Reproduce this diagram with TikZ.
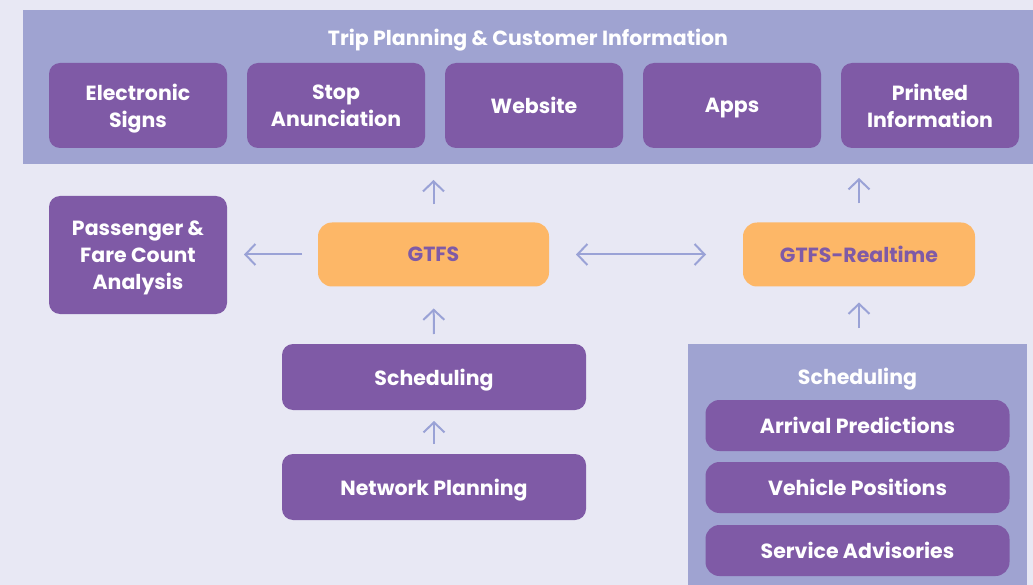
\documentclass[tikz,border=0pt]{standalone}
\usepackage{fontspec}
\setmainfont{Poppins}
\usetikzlibrary{positioning,arrows.meta}
\definecolor{bgc}{HTML}{E8E8F4}
\definecolor{bandc}{HTML}{9FA3D1}
\definecolor{boxc}{HTML}{7F5AA6}
\definecolor{feedc}{HTML}{FDB767}
\definecolor{arrowc}{HTML}{9AA2D6}
\tikzset{
	lbl/.style={font=\fontsize{20.5}{27}\selectfont\bfseries, align=center, inner sep=0pt, outer sep=0pt, text depth=0pt},
	box/.style={lbl, rectangle, fill=boxc, text=white, rounded corners=11pt, minimum width=178pt, minimum height=85pt},
	feed/.style={lbl, rectangle, fill=feedc, text=boxc, rounded corners=14pt, minimum width=231pt, minimum height=64pt},
	panel/.style={rectangle, fill=bandc, inner sep=0pt, outer sep=0pt},
	title/.style={lbl, text=white},
	barbtip/.tip={Straight Barb[length=10pt,width=21pt]},
	arr/.style={draw=arrowc, line width=2pt, -barbtip}
}
\begin{document}
\begin{tikzpicture}[x=1pt, y=-1pt]
		\useasboundingbox[fill=bgc] (0,0) rectangle (1033,585);
		\node[panel, minimum width=1010pt, minimum height=154pt] (trip) at (528,87) {};
		\node[title, below=19pt of trip.north] (triptitle) {Trip Planning \& Customer Information};
		\node[box] (signs) at (138,105.5) {Electronic\\Signs};
		\node[box, right=20pt of signs] (stop) {Stop\\Anunciation};
		\node[box, right=20pt of stop] (web) {Website};
		\node[box, right=20pt of web] (apps) {Apps};
		\node[box, right=20pt of apps] (printed) {Printed\\Information};
		\node[box, below=48pt of signs, minimum height=118pt] (fare) {Passenger \&\\Fare Count\\Analysis};
		\node[feed] (gtfs) at (433.5,254.5) {GTFS};
		\node[feed, right=194pt of gtfs, minimum width=232pt] (rt) {GTFS-Realtime};
		\node[box, minimum width=304pt, minimum height=66pt] (sched) at (434,377) {Scheduling};
		\node[box, below=44pt of sched, minimum width=304pt, minimum height=66pt] (network) {Network Planning};
		\node[panel, minimum width=339pt, minimum height=241pt] (live) at (857.5,464.5) {};
		\node[title, below=24pt of live.north] (livetitle) {Scheduling};
		\node[box, below=56pt of live.north, minimum width=304pt, minimum height=51pt, rounded corners=14pt] (arrival) {Arrival Predictions};
		\node[box, below=11pt of arrival, minimum width=304pt, minimum height=51pt, rounded corners=14pt] (vehicle) {Vehicle Positions};
		\node[box, below=12pt of vehicle, minimum width=304pt, minimum height=51pt, rounded corners=14pt] (advisory) {Service Advisories};
		\draw[arr, shorten <=18pt, shorten >=16pt] (gtfs.north) -- (gtfs.north |- trip.south);
		\draw[arr, shorten <=19pt, shorten >=14pt] (rt.north) -- (rt.north |- trip.south);
		\draw[arr, shorten <=16pt, shorten >=17pt] (gtfs.west) -- (fare.east |- gtfs.west);
		\draw[arr, barbtip-barbtip, shorten <=27pt, shorten >=37pt] (gtfs.east) -- (rt.west);
		\draw[arr, shorten <=16pt, shorten >=16pt] (live.north -| rt.south) -- (rt.south);
		\draw[arr, shorten <=10pt, shorten >=22pt] (sched.north) -- (gtfs.south);
		\draw[arr, shorten <=10pt, shorten >=11pt] (network.north) -- (sched.south);
	\end{tikzpicture}
\end{document}
